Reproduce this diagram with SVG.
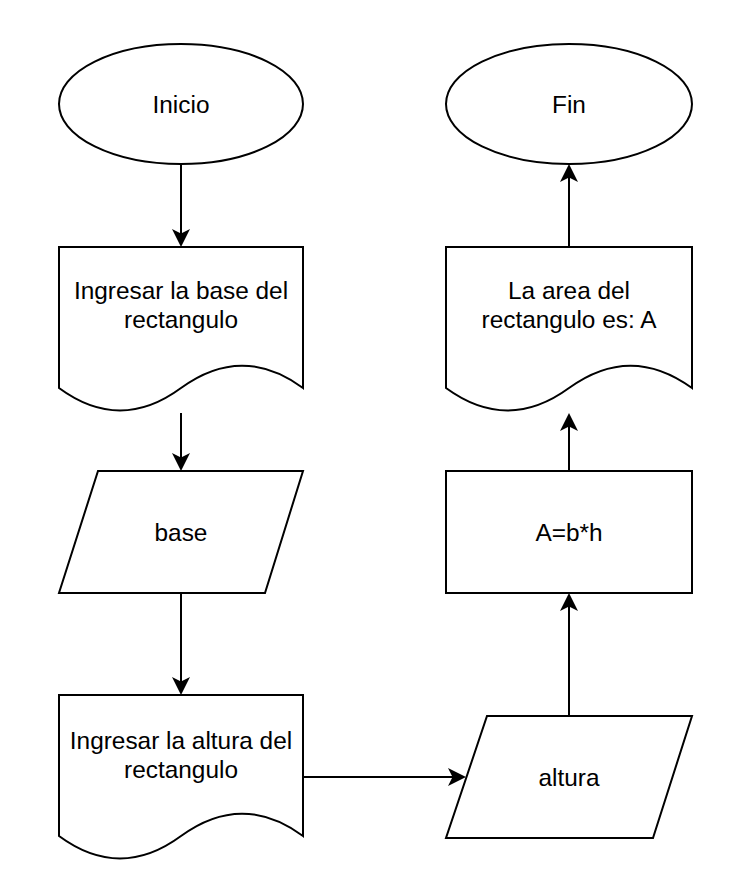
<svg xmlns="http://www.w3.org/2000/svg" width="736" height="888" viewBox="0 0 736 888">
<style>
.shape{fill:#ffffff;stroke:#000000;stroke-width:2}
.edge{fill:none;stroke:#000000;stroke-width:2}
.lbl{font-family:"Liberation Sans",Arial,sans-serif;font-size:24.4px;fill:#000000;text-anchor:middle}
</style>
<defs>
<marker id="arrow" viewBox="0 0 18 18" refX="8" refY="9" markerWidth="18" markerHeight="18" markerUnits="userSpaceOnUse" orient="auto">
<path d="M18,9 L0,0 L4.5,9 L0,18 Z" fill="#000000"/>
</marker>
</defs>
<rect width="736" height="888" fill="#ffffff"/>
<g id="connectors">
<path class="edge" marker-end="url(#arrow)" d="M181,164 V237"/>
<path class="edge" marker-end="url(#arrow)" d="M181,413 V461"/>
<path class="edge" marker-end="url(#arrow)" d="M181,593 V685"/>
<path class="edge" marker-end="url(#arrow)" d="M303,777 H456"/>
<path class="edge" marker-end="url(#arrow)" d="M569,716 V603"/>
<path class="edge" marker-end="url(#arrow)" d="M569,471 V423"/>
<path class="edge" marker-end="url(#arrow)" d="M569,247 V174"/>
</g>
<g id="inicio">
<ellipse class="shape" cx="181" cy="104" rx="122" ry="60"/>
<text class="lbl" x="181" y="112.5">Inicio</text>
</g>
<g id="ingresar-base">
<path class="shape" d="M59,247 H303 V388 Q242,343.3 181,388 Q120,432.9 59,388 Z"/>
<text class="lbl" x="181" y="298.5">Ingresar la base del</text>
<text class="lbl" x="181" y="327.5">rectangulo</text>
</g>
<g id="base">
<path class="shape" d="M98,471 H303 L265,593 H59 Z"/>
<text class="lbl" x="181" y="541">base</text>
</g>
<g id="ingresar-altura">
<path class="shape" d="M59,695 H303 V836 Q242,791.3 181,836 Q120,880.9 59,836 Z"/>
<text class="lbl" x="181" y="748.5">Ingresar la altura del</text>
<text class="lbl" x="181" y="777.5">rectangulo</text>
</g>
<g id="altura">
<path class="shape" d="M487,716 H692 L653,838 H446 Z"/>
<text class="lbl" x="569" y="786">altura</text>
</g>
<g id="calculo">
<rect class="shape" x="446" y="471" width="246" height="122"/>
<text class="lbl" x="569" y="541">A=b*h</text>
</g>
<g id="resultado">
<path class="shape" d="M446,247 H692 V388 Q630.5,343.3 569,388 Q507.5,432.9 446,388 Z"/>
<text class="lbl" x="569" y="298.5">La area del</text>
<text class="lbl" x="569" y="327.5">rectangulo es: A</text>
</g>
<g id="fin">
<ellipse class="shape" cx="569" cy="104" rx="123" ry="60"/>
<text class="lbl" x="569" y="112.5">Fin</text>
</g>
</svg>
